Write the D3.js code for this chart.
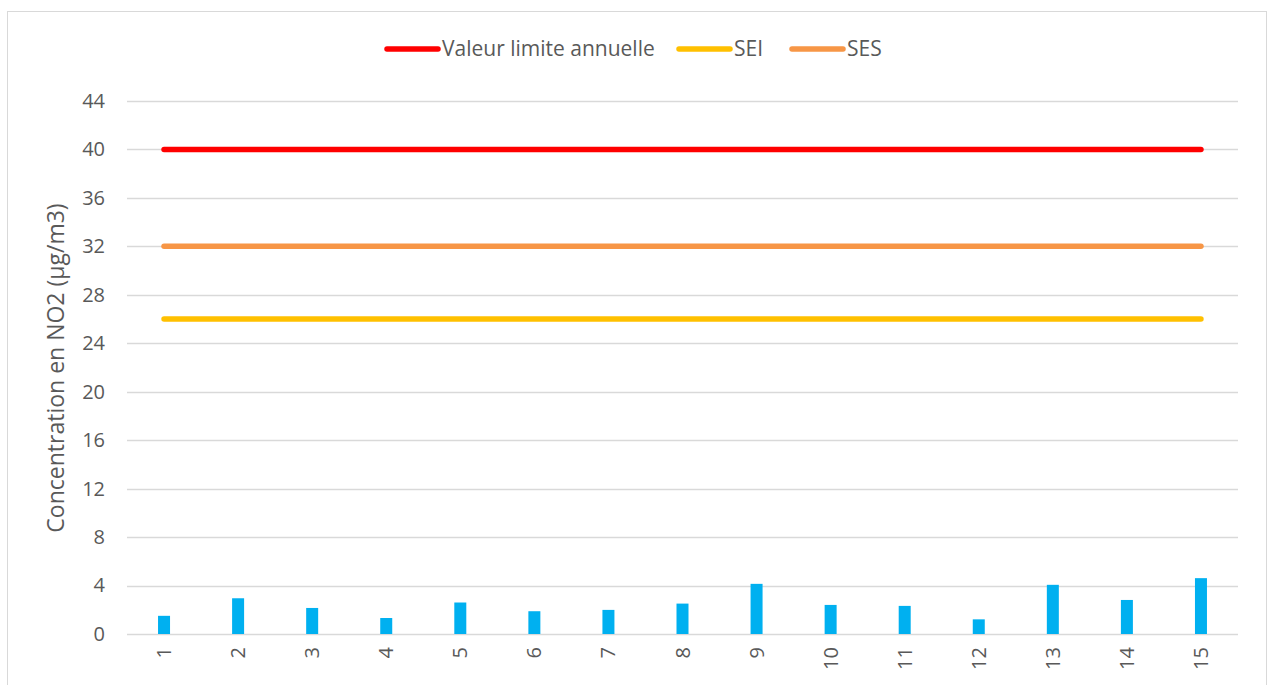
<!DOCTYPE html>
<html>
<head>
<meta charset="utf-8">
<script src="https://cdn.jsdelivr.net/npm/d3@7"></script>
<style>
  body { margin: 0; background: #fff; }
  text { font-family: "Open Sans", "Liberation Sans", sans-serif; fill: #595959; }
</style>
</head>
<body>
<div id="chart"></div>
<script>
// sites 1..15
var categories = ['1','2','3','4','5','6','7','8','9','10','11','12','13','14','15'];
var no2Values = [1.5, 2.95, 2.15, 1.32, 2.6, 1.88, 1.99, 2.51, 4.14, 2.4, 2.32, 1.21, 4.06, 2.81, 4.61];
var yTicks = [0, 4, 8, 12, 16, 20, 24, 28, 32, 36, 40, 44];

var thresholds = [
  { name: 'Valeur limite annuelle', value: 40, color: '#ff0000' },
  { name: 'SEI', value: 26, color: '#ffc000' },
  { name: 'SES', value: 32, color: '#f79646' }
];

var width = 1268, height = 685;
var margin = { top: 101, right: 30, bottom: 51, left: 127 };

var svg = d3.select('#chart').append('svg')
  .attr('width', width)
  .attr('height', height);

// outer frame
svg.append('rect')
  .attr('x', 7.5).attr('y', 11.5)
  .attr('width', 1259).attr('height', 690)
  .attr('fill', 'none')
  .attr('stroke', '#d9d9d9');

var x = d3.scaleBand()
  .domain(categories)
  .range([margin.left, width - margin.right]);

var y = d3.scaleLinear()
  .domain([0, 44])
  .range([height - margin.bottom, margin.top]);

// grid
svg.append('g')
  .selectAll('line')
  .data(yTicks)
  .join('line')
  .attr('x1', x.range()[0])
  .attr('x2', x.range()[1])
  .attr('y1', function(d) { return Math.round(y(d)) + 0.5; })
  .attr('y2', function(d) { return Math.round(y(d)) + 0.5; })
  .attr('stroke', '#d9d9d9')
  .attr('stroke-width', 1.3);

// y axis labels
var yAxis = d3.axisLeft(y).tickValues(yTicks).tickSize(0).tickPadding(0);
svg.append('g')
  .attr('transform', 'translate(105,0)')
  .call(yAxis)
  .call(function(g) { g.select('.domain').remove(); })
  .selectAll('text')
  .style('font-size', '20px')
  .attr('fill', '#595959');

// x axis labels, rotated
var xAxis = d3.axisBottom(x).tickSize(0).tickPadding(0);
svg.append('g')
  .attr('transform', 'translate(0,' + (y(0) + 13) + ')')
  .call(xAxis)
  .call(function(g) { g.select('.domain').remove(); })
  .selectAll('text')
  .style('font-size', '20px')
  .attr('fill', '#595959')
  .attr('text-anchor', 'end')
  .attr('dy', '0.35em')
  .attr('dx', 0)
  .attr('y', 0)
  .attr('transform', 'rotate(-90)');

// bars
var barW = 12;
svg.append('g')
  .selectAll('rect')
  .data(no2Values)
  .join('rect')
  .attr('x', function(d, i) { return x(categories[i]) + x.bandwidth() / 2 - barW / 2; })
  .attr('y', function(d) { return y(d); })
  .attr('width', barW)
  .attr('height', function(d) { return y(0) - y(d); })
  .attr('fill', '#00b0f0');

// threshold lines
var first = categories[0], last = categories[categories.length - 1];
svg.append('g')
  .selectAll('line')
  .data(thresholds)
  .join('line')
  .attr('x1', x(first) + x.bandwidth() / 2)
  .attr('x2', x(last) + x.bandwidth() / 2)
  .attr('y1', function(d) { return y(d.value); })
  .attr('y2', function(d) { return y(d.value); })
  .attr('stroke', function(d) { return d.color; })
  .attr('stroke-width', 5.5)
  .attr('stroke-linecap', 'round');

// y title
svg.append('text')
  .attr('transform', 'translate(64,' + 368 + ') rotate(-90)')
  .attr('text-anchor', 'middle')
  .style('font-size', '23px')
  .text('Concentration en NO2 (µg/m3)');

// legend
var legendX = [387, 679, 792];
var legend = svg.append('g')
  .selectAll('g')
  .data(thresholds)
  .join('g')
  .attr('transform', function(d, i) { return 'translate(' + legendX[i] + ',49)'; });

legend.append('line')
  .attr('x1', 0).attr('x2', 51)
  .attr('y1', 0).attr('y2', 0)
  .attr('stroke', function(d) { return d.color; })
  .attr('stroke-width', 5.5)
  .attr('stroke-linecap', 'round');

legend.append('text')
  .attr('x', 55)
  .attr('dy', '0.35em')
  .style('font-size', '21px')
  .text(function(d) { return d.name; });
</script>
</body>
</html>
